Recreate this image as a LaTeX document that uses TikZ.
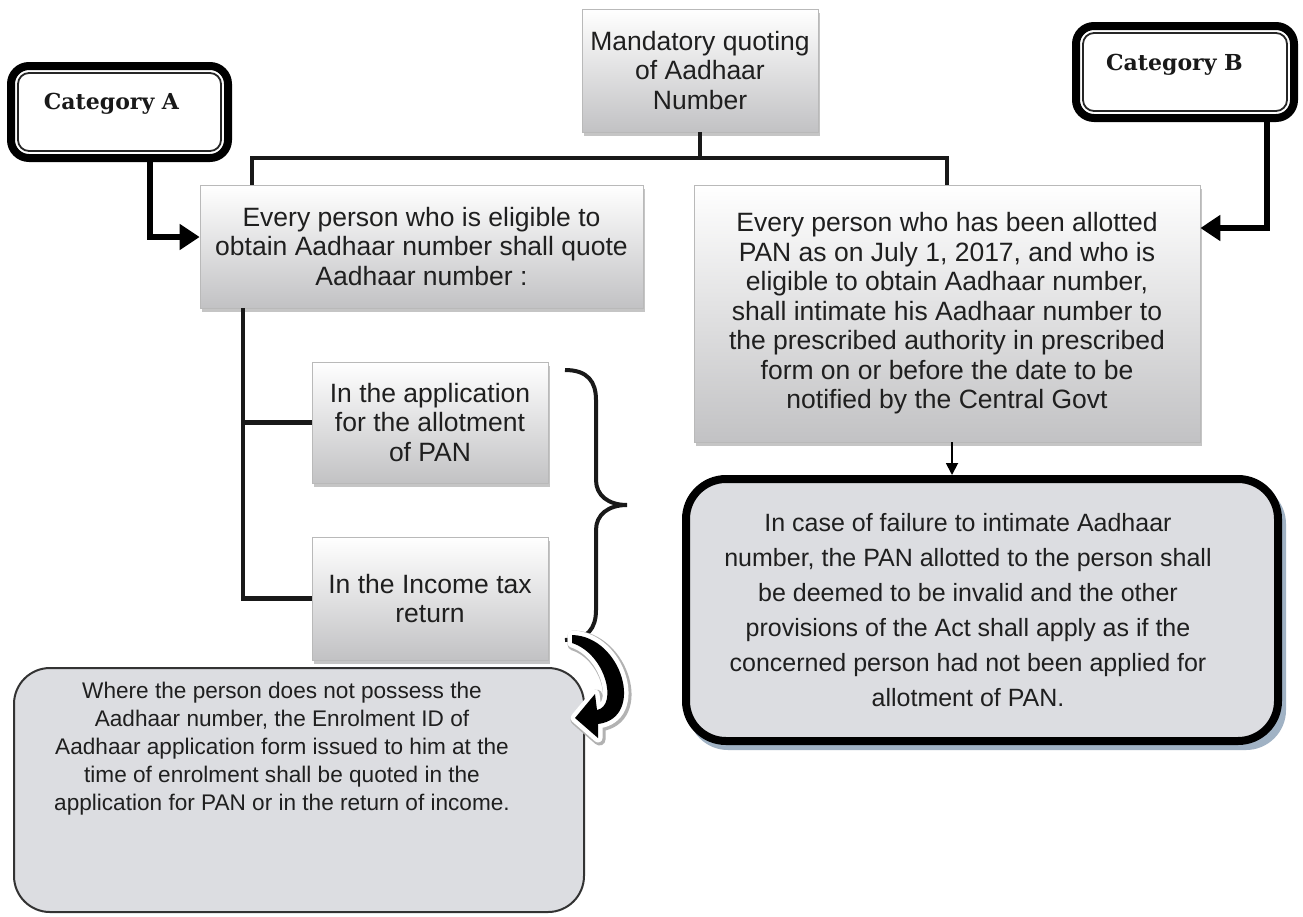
\documentclass[tikz,border=0pt]{standalone}
\usepackage{fontspec}
\setmainfont{Liberation Sans}
\newfontfamily\catfont{DejaVu Serif}
\usetikzlibrary{arrows.meta,shadows,calc}
\definecolor{boxgray}{RGB}{220,221,225}
\definecolor{shadowblue}{RGB}{160,178,196}
\definecolor{gradbot}{RGB}{194,194,196}
\begin{document}
\begin{tikzpicture}[x=1pt,y=-1pt,
  gbox/.style={draw=gray!55, line width=0.8pt, top color=white, bottom color=gradbot,
    align=center, inner sep=0pt, text=black!88,
    font=\fontsize{26.5}{29.5}\selectfont,
    drop shadow={shadow xshift=1.5pt, shadow yshift=-3.5pt, fill=black!45, opacity=0.5}},
  catbox/.style={draw=black, line width=8pt, rounded corners=18pt, inner sep=0pt, fill=white},
  catinner/.style={draw=black!85, line width=1.8pt, rounded corners=11pt},
  cattext/.style={font=\catfont\bfseries\fontsize{22}{26}\selectfont, inner sep=0pt, anchor=base, text=black!90},
  conn/.style={line width=4.5pt, black!90},
  catarrow/.style={line width=6.5pt, black, -{Triangle[length=20pt,width=25pt]}},
  rtext/.style={align=center, inner sep=0pt, text=black!88}
]
\fill[white] (0,0) rectangle (1303,916);
\useasboundingbox (0,0) rectangle (1303,916);

% gradient boxes
\node[gbox, minimum width=236pt, minimum height=123pt] (title) at (700,70.5)
  {Mandatory quoting\\of Aadhaar\\Number};
\node[gbox, minimum width=443pt, minimum height=123pt] (left) at (421.5,246.5)
  {Every person who is eligible to\\obtain Aadhaar number shall quote\\Aadhaar number :};
\node[gbox, minimum width=506pt, minimum height=257pt] (right) at (947,313.5)
  {Every person who has been allotted\\PAN as on July 1, 2017, and who is\\eligible to obtain Aadhaar number,\\shall intimate his Aadhaar number to\\the prescribed authority in prescribed\\form on or before the date to be\\notified by the Central Govt};
\node[gbox, minimum width=236pt, minimum height=121pt] (sub1) at (430,422.5)
  {In the application\\for the allotment\\of PAN};
\node[gbox, minimum width=236pt, minimum height=123pt] (sub2) at (430,598.5)
  {In the Income tax\\return};

% category boxes
\node[catbox, minimum width=217pt, minimum height=92pt] (catA) at (119.5,112) {};
\draw[catinner] ([shift={(11,11)}]catA.north west) rectangle ([shift={(-11,-11)}]catA.south east);
\node[cattext] (catAtext) at (111.5,109) {Category A};
\node[catbox, minimum width=218pt, minimum height=92pt] (catB) at (1185,72) {};
\draw[catinner] ([shift={(11,11)}]catB.north west) rectangle ([shift={(-11,-11)}]catB.south east);
\node[cattext] (catBtext) at (1174.5,70) {Category B};

% connectors from title
\coordinate (hL) at (252,158);
\coordinate (hR) at (947,158);
\draw[conn] (title.south) -- (title.south |- hL);
\draw[conn] (left.north -| hL) -- (hL) -- (hR) -- (right.north);

% branches to sub boxes
\coordinate (vx) at (243,0);
\draw[conn] (left.south -| vx) |- (sub2.west);
\draw[conn] (vx |- sub1.west) -- (sub1.west);

% category arrows
\coordinate (aT) at (150,237);
\draw[catarrow] (catA.south -| aT) -- (aT) -- (aT -| left.west);
\coordinate (bT) at (1267,228);
\draw[catarrow] (catB.south -| bT) -- (bT) -- (bT -| right.east);

% failure box
\fill[shadowblue, rounded corners=40pt] (688,484) rectangle (1286,750);
\node[draw=black, line width=8pt, rounded corners=40pt, fill=boxgray,
  minimum width=592pt, minimum height=262pt, inner sep=0pt] (fail) at (982,610) {};
\node[rtext, font=\fontsize{25}{35}\selectfont] (failtext) at (968,610.4)
  {In case of failure to intimate Aadhaar\\number, the PAN allotted to the person shall\\be deemed to be invalid and the other\\provisions of the Act shall apply as if the\\concerned person had not been applied for\\allotment of PAN.};
\coordinate (fx) at (952,0);
\draw[line width=1.8pt, black, -{Triangle[length=12pt,width=12pt]}] (right.south -| fx) -- (fail.north -| fx);

% where box
\node[draw=black!80, line width=2pt, rounded corners=36pt, fill=boxgray,
  minimum width=570pt, minimum height=244pt, inner sep=0pt] (where) at (299,790) {};
\node[rtext, font=\fontsize{22.6}{28.2}\selectfont] (wheretext) at (282,748.6)
  {Where the person does not possess the\\Aadhaar number, the Enrolment ID of\\Aadhaar application form issued to him at the\\time of enrolment shall be quoted in the\\application for PAN or in the return of income.};

% brace
\draw[line width=4pt, black!90] (565,370) .. controls (588,370) and (596,382) .. (596,400)
  -- (596,480) .. controls (596,495) and (608,505) .. (627,505)
  .. controls (608,505) and (596,515) .. (596,530)
  -- (596,610) .. controls (596,628) and (588,640) .. (565,640);

% curved arrow
\def\carrowpath{(572,635) .. controls (622,636) and (646,718) .. (598,724) -- (598,738) -- (575,718) -- (595,694) -- (597,710) .. controls (618,706) and (606,654) .. (572,643) -- cycle}
\draw[gray!60, line width=12pt, line join=round, shift={(1.5,1.5)}] \carrowpath;
\draw[white, line width=9pt, line join=round] \carrowpath;
\fill[black] \carrowpath;
\end{tikzpicture}
\end{document}
